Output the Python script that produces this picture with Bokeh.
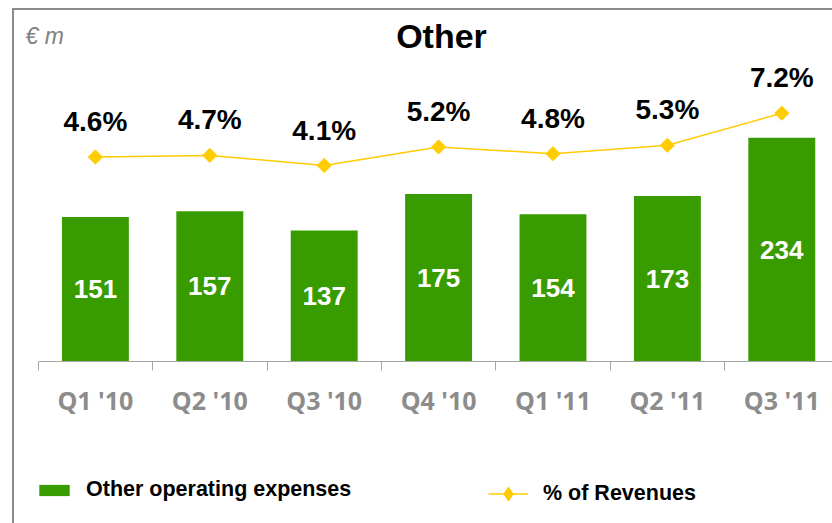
from bokeh.plotting import figure
from bokeh.layouts import column
from bokeh.models import (Range1d, FixedTicker, Label, Legend, LegendItem,
                          ColumnDataSource)
from bokeh.core.properties import value
from bokeh.embed import file_html
from bokeh.resources import INLINE

# ---- data ----
quarters = ["Q1 '10", "Q2 '10", "Q3 '10", "Q4 '10", "Q1 '11", "Q2 '11", "Q3 '11"]
expenses = [151, 157, 137, 175, 154, 173, 234]
pct_revenue = [4.6, 4.7, 4.1, 5.2, 4.8, 5.3, 7.2]
title_text = "Other"
unit_text = "€ m"
bar_name = "Other operating expenses"
line_name = "% of Revenues"

# ---- styles ----
GREEN = "#389B00"
GOLD = "#FFCC00"
AXIS_GRAY = "#a6a6a6"
LABEL_GRAY = "#8c8c8c"
FONT = "Liberation Sans"

W = 818
H1 = 421              # chart part
H2 = 92               # legend strip
FRAME_H = 351
X0_PX = 23.7          # canvas x of the first category boundary
CAT_PX = 114.4
PX_PER_UNIT = 0.9565
x_start = -X0_PX / CAT_PX
x_end = (W - X0_PX) / CAT_PX

centers = [i + 0.5 for i in range(len(quarters))]
bounds = [float(i) for i in range(len(quarters) + 1)]

src = ColumnDataSource(dict(
    x=centers,
    exp=expenses,
    exp_mid=[v / 2 for v in expenses],
    exp_txt=[str(v) for v in expenses],
    pct=pct_revenue,
    pct_txt=[f"{v:.1f}%" for v in pct_revenue],
))

p = figure(width=W, height=H1, output_backend="svg", toolbar_location=None,
           x_range=Range1d(x_start, x_end),
           y_range=Range1d(0, FRAME_H / PX_PER_UNIT),
           min_border_left=0, min_border_right=0, min_border_top=0,
           min_border_bottom=H1 - FRAME_H)
p.extra_y_ranges = {"pct": Range1d(-7.518, 13.288)}
p.outline_line_color = None
p.xgrid.visible = False
p.ygrid.visible = False
p.yaxis.visible = False
p.background_fill_color = "white"
p.border_fill_color = "white"

bars = p.vbar(x="x", top="exp", width=0.585, source=src, fill_color=GREEN,
              line_color=None)
p.text(x="x", y="exp_mid", text="exp_txt", source=src, text_color="white",
       text_font=value(FONT), text_font_style="bold", text_font_size="26px",
       text_align="center", text_baseline="middle")

ln = p.line(x="x", y="pct", source=src, y_range_name="pct", line_color=GOLD,
            line_width=1.5)
mk = p.scatter(x="x", y="pct", source=src, y_range_name="pct", marker="square",
               angle=0.785398, size=10, fill_color=GOLD, line_color=GOLD)
p.text(x="x", y="pct", text="pct_txt", source=src, y_range_name="pct",
       y_offset=-35.5, text_color="black", text_font=value(FONT),
       text_font_style="bold", text_font_size="28px", text_align="center",
       text_baseline="middle")

ax = p.xaxis[0]
ax.bounds = (0, x_end)
ax.ticker = FixedTicker(ticks=centers, minor_ticks=bounds)
ax.major_label_overrides = {c: q for c, q in zip(centers, quarters)}
ax.major_tick_out = 0
ax.major_tick_in = 0
ax.minor_tick_out = 9
ax.minor_tick_in = 0
ax.minor_tick_line_color = AXIS_GRAY
ax.axis_line_color = AXIS_GRAY
ax.major_label_standoff = 12
ax.major_label_text_font = "Open Sans"
ax.major_label_text_font_style = "bold"
ax.major_label_text_font_size = "25px"
ax.major_label_text_color = LABEL_GRAY

p.add_layout(Label(x=(427 - X0_PX) / CAT_PX, y=(FRAME_H - 25) / PX_PER_UNIT,
                   text=title_text, text_font=FONT, text_font_style="bold",
                   text_font_size="34px", text_align="center",
                   text_baseline="middle", text_color="black"))
p.add_layout(Label(x=(11 - X0_PX) / CAT_PX, y=(FRAME_H - 25) / PX_PER_UNIT,
                   text=unit_text, text_font=FONT, text_font_style="italic",
                   text_font_size="23px", text_align="left",
                   text_baseline="middle", text_color="#808080"))

# ---- legend strip (key swatches sit outside the visible range) ----
lg = figure(width=W, height=H2, output_backend="svg", toolbar_location=None,
            x_range=Range1d(0, 1), y_range=Range1d(0, 1),
            min_border=0)
lg.axis.visible = False
lg.grid.visible = False
lg.outline_line_color = None
lg.background_fill_color = "white"
lg.border_fill_color = "white"
kb = lg.vbar(x=[-10], top=[-10], width=0.5, fill_color=GREEN, line_color=None)
kl = lg.line(x=[-10, -9], y=[-10, -10], line_color=GOLD, line_width=1.5)
km = lg.scatter(x=[-10], y=[-10], marker="diamond", size=14,
                fill_color=GOLD, line_color=GOLD)

common = dict(orientation="horizontal", padding=0, margin=0,
              label_text_font=FONT, label_text_font_style="bold",
              label_text_font_size="21.5px", label_text_color="black",
              border_line_color=None, background_fill_alpha=0)
lg.add_layout(Legend(items=[LegendItem(label=bar_name, renderers=[kb])],
                     location=(21, 21), glyph_width=38, glyph_height=14,
                     label_standoff=13, **common))
lg.add_layout(Legend(items=[LegendItem(label=line_name, renderers=[kl, km])],
                     location=(474, 12), glyph_width=40, glyph_height=35,
                     label_standoff=15, **common))

layout = column(p, lg, spacing=0)
layout.styles = {"margin-left": "12px", "margin-top": "8px",
                 "border-left": "2px solid #8c8c8c",
                 "border-top": "2px solid #8c8c8c"}

open("out.html", "w").write(file_html(layout, INLINE))
